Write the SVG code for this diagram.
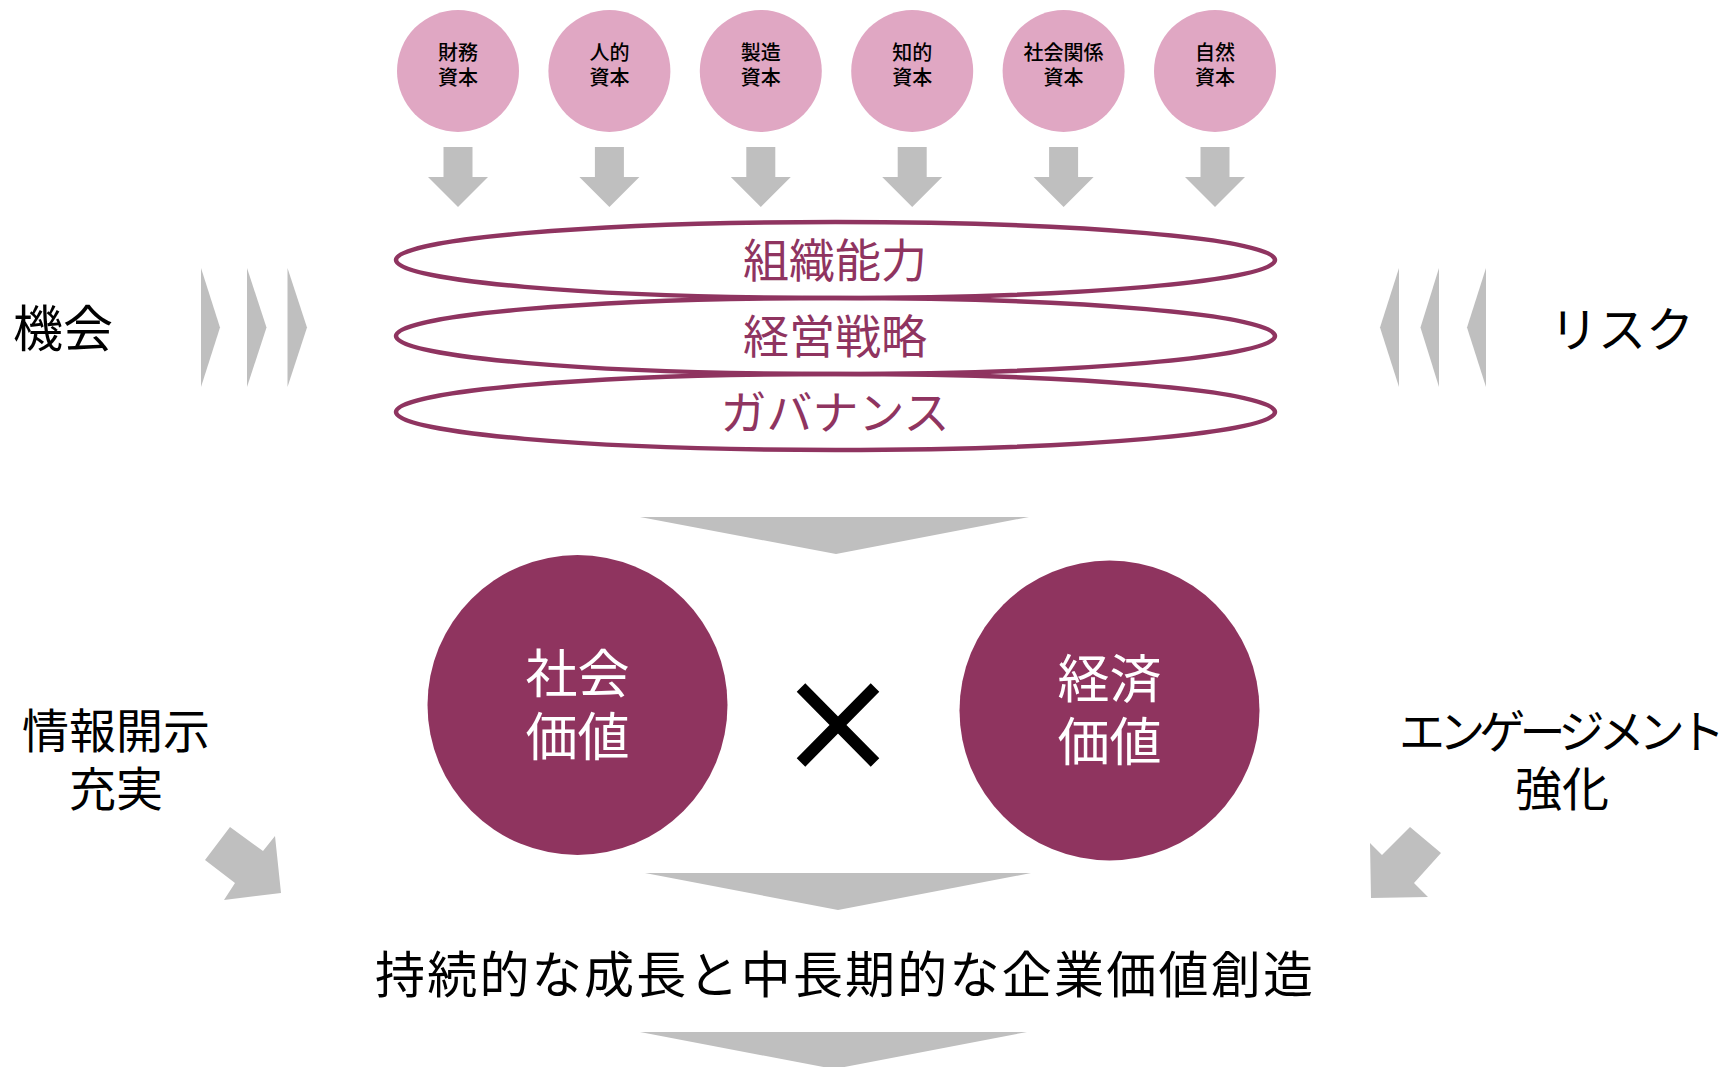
<svg xmlns="http://www.w3.org/2000/svg" xmlns:xlink="http://www.w3.org/1999/xlink" width="1731" height="1067" viewBox="0 0 1731 1067">
  <style>
    text { font-family: "Noto Sans CJK JP", "Noto Sans", sans-serif; }
    .cap { fill: #E0A7C3; }
    .capt { font-size: 20px; fill: #000; text-anchor: middle; font-weight: 500; }
    .ring { fill: none; stroke: #8F3460; stroke-width: 4.5; }
    .ringt { font-size: 46px; fill: #8F3460; text-anchor: middle; }
    .val { fill: #8F345F; }
    .valt { font-size: 52px; fill: #fff; text-anchor: middle; }
    .side { font-size: 48px; fill: #000; text-anchor: middle; }
    .gray { fill: #BFBFBF; }
    .main { font-size: 50px; fill: #000; }
  </style>
  <defs>
    <path id="dn" d="M -14.5 147 L 14.5 147 L 14.5 177 L 30 177 L 0 207 L -30 177 L -14.5 177 Z"/>
  </defs>

  <g id="capitals">
    <g id="cap-financial"><circle class="cap" cx="458" cy="71" r="61"/><text class="capt"><tspan x="458" y="60">財務</tspan><tspan x="458" y="85">資本</tspan></text></g>
    <g id="cap-human"><circle class="cap" cx="609.4" cy="71" r="61"/><text class="capt"><tspan x="609.4" y="60">人的</tspan><tspan x="609.4" y="85">資本</tspan></text></g>
    <g id="cap-manufactured"><circle class="cap" cx="760.8" cy="71" r="61"/><text class="capt"><tspan x="760.8" y="60">製造</tspan><tspan x="760.8" y="85">資本</tspan></text></g>
    <g id="cap-intellectual"><circle class="cap" cx="912.2" cy="71" r="61"/><text class="capt"><tspan x="912.2" y="60">知的</tspan><tspan x="912.2" y="85">資本</tspan></text></g>
    <g id="cap-social"><circle class="cap" cx="1063.6" cy="71" r="61"/><text class="capt"><tspan x="1063.6" y="60">社会関係</tspan><tspan x="1063.6" y="85">資本</tspan></text></g>
    <g id="cap-natural"><circle class="cap" cx="1215" cy="71" r="61"/><text class="capt"><tspan x="1215" y="60">自然</tspan><tspan x="1215" y="85">資本</tspan></text></g>
  </g>

  <g id="connectors">
    <use href="#dn" class="gray" x="458"/>
    <use href="#dn" class="gray" x="609.4"/>
    <use href="#dn" class="gray" x="760.8"/>
    <use href="#dn" class="gray" x="912.2"/>
    <use href="#dn" class="gray" x="1063.6"/>
    <use href="#dn" class="gray" x="1215"/>
    <!-- opportunity chevrons -->
    <polygon class="gray" points="201,268 220,327.5 201,387"/>
    <polygon class="gray" points="247,268 266.5,327.5 247,387"/>
    <polygon class="gray" points="287.5,268 307,327.5 287.5,387"/>
    <!-- risk chevrons -->
    <polygon class="gray" points="1399,268 1380,327.5 1399,387"/>
    <polygon class="gray" points="1439,268 1420.5,327.5 1439,387"/>
    <polygon class="gray" points="1486,268 1467,327.5 1486,387"/>
    <!-- wide down chevrons -->
    <polygon class="gray" points="640,517 1029,517 836,554"/>
    <polygon class="gray" points="645,873 1031,873 838,910"/>
    <polygon class="gray" points="640,1032 1027,1032 834,1069"/>
    <!-- diagonal arrows -->
    <polygon class="gray" points="205,860 230,827 263,851 275,836 281,893 224,900 235,883"/>
    <polygon class="gray" points="1371,898 1370,843 1382,855 1410,827 1441,853 1414,883 1428,897"/>
  </g>

  <g id="ring-org"><ellipse class="ring" cx="835.5" cy="260" rx="439.5" ry="38"/><text class="ringt" x="835" y="277">組織能力</text></g>
  <g id="ring-strategy"><ellipse class="ring" cx="835.5" cy="336" rx="439.5" ry="38"/><text class="ringt" x="835" y="353">経営戦略</text></g>
  <g id="ring-governance"><ellipse class="ring" cx="835.5" cy="412" rx="439.5" ry="38"/><text class="ringt" x="835" y="429">ガバナンス</text></g>

  <g id="label-opportunity"><text class="side" style="font-size:50px" x="63" y="347">機会</text></g>
  <g id="label-risk"><text class="side" x="1622" y="347">リスク</text></g>

  <g id="value-social"><circle class="val" cx="577.5" cy="705" r="150"/><text class="valt"><tspan x="577.5" y="693">社会</tspan><tspan x="577.5" y="756">価値</tspan></text></g>
  <g id="times"><path d="M 801 687.5 L 875 762.5 M 875 687.5 L 801 762.5" stroke="#000" stroke-width="12" fill="none"/></g>
  <g id="value-economic"><circle class="val" cx="1109.5" cy="710.5" r="150"/><text class="valt"><tspan x="1109.5" y="698">経済</tspan><tspan x="1109.5" y="761">価値</tspan></text></g>

  <g id="label-disclosure"><text class="side" style="font-size:47px"><tspan x="116" y="748">情報開示</tspan><tspan x="116" y="806">充実</tspan></text></g>
  <g id="label-engagement"><text class="side" style="font-size:46px"><tspan x="1562" y="748" textLength="326" lengthAdjust="spacing">エンゲージメント</tspan><tspan x="1562" y="806" style="font-size:47px">強化</tspan></text></g>

  <g id="result"><text class="main" x="375" y="993" textLength="938" lengthAdjust="spacing">持続的な成長と中長期的な企業価値創造</text></g>
</svg>
